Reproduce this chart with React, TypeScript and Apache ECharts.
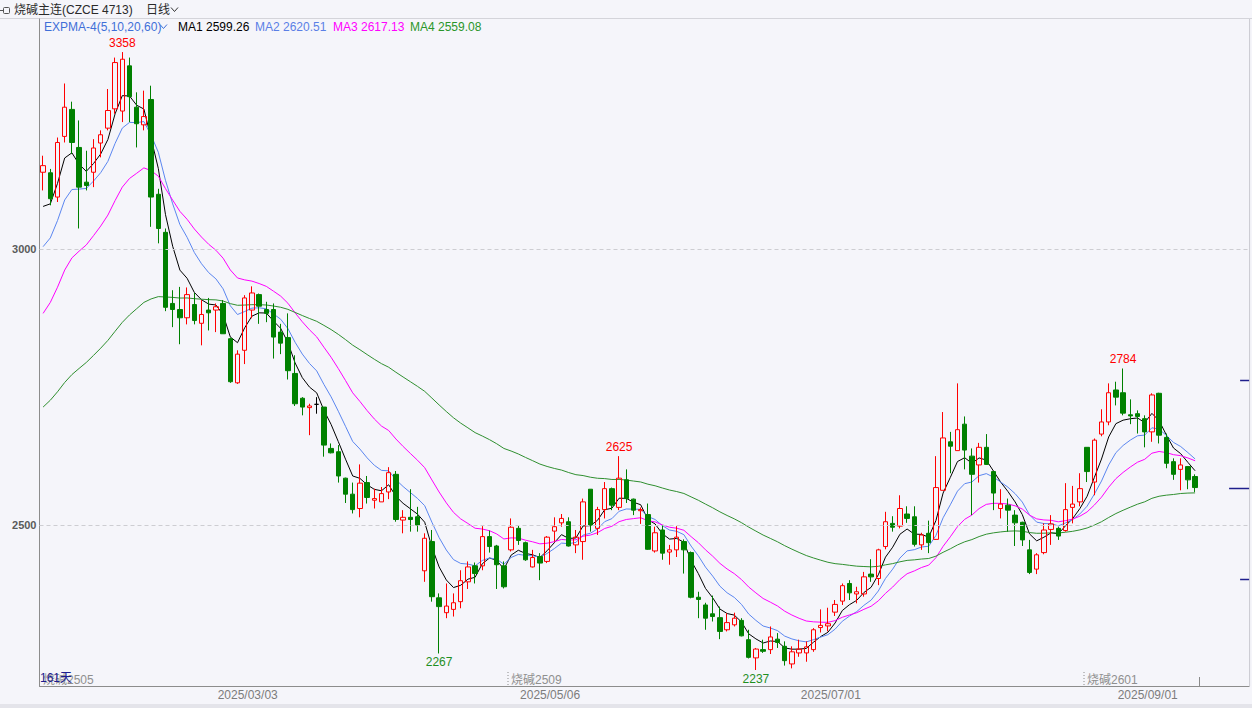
import React, { useEffect, useRef } from "react";
import * as echarts from "echarts";

// ---- trading calendar (2025) ----
const JAN = [14, 15, 16, 17, 20, 21, 22, 23, 24, 27];
const FEB = [5, 6, 7, 10, 11, 12, 13, 14, 17, 18, 19, 20, 21, 24, 25, 26, 27, 28];
const MAR = [3, 4, 5, 6, 7, 10, 11, 12, 13, 14, 17, 18, 19, 20, 21, 24, 25, 26, 27, 28, 31];
const APR = [1, 2, 3, 7, 8, 9, 10, 11, 14, 15, 16, 17, 18, 21, 22, 23, 24, 25, 28, 29, 30];
const MAY = [6, 7, 8, 9, 12, 13, 14, 15, 16, 19, 20, 21, 22, 23, 26, 27, 28, 29, 30];
const JUN = [3, 4, 5, 6, 9, 10, 11, 12, 13, 16, 17, 18, 19, 20, 23, 24, 25, 26, 27, 30];
const JUL = [1, 2, 3, 4, 7, 8, 9, 10, 11, 14, 15, 16, 17, 18, 21, 22, 23, 24, 25, 28, 29, 30, 31];
const AUG = [1, 4, 5, 6, 7, 8, 11, 12, 13, 14, 15, 18, 19, 20, 21, 22, 25, 26, 27, 28, 29];
const SEP = [1, 2, 3, 4, 5, 8, 9, 10];
const MONTH_DAYS: [number, number[]][] = [[1, JAN], [2, FEB], [3, MAR], [4, APR], [5, MAY], [6, JUN], [7, JUL], [8, AUG], [9, SEP]];
const PAD_SLOTS = 7;

// ---- OHLC ----
const opens = [
  3140, 3139, 3095, 3205, 3254, 3185, 3122, 3140, 3193, 3220,
  3255, 3251, 3333, 3258, 3226, 3272, 3100, 3031, 2902, 2891,
  2876, 2900, 2866, 2890, 2890, 2902, 2838, 2758, 2817, 2890,
  2918, 2891, 2891, 2850, 2840, 2775, 2730, 2713, 2719, 2714,
  2639, 2633, 2585, 2556, 2530, 2577, 2545, 2542, 2560, 2592,
  2509, 2514, 2515, 2417, 2470, 2368, 2341, 2347, 2361, 2397,
  2426, 2426, 2479, 2462, 2426, 2455, 2494, 2468, 2424, 2443,
  2434, 2489, 2504, 2506, 2464, 2470, 2565, 2494, 2528, 2566,
  2532, 2582, 2547, 2526, 2519, 2453, 2491, 2451, 2455, 2470,
  2450, 2369, 2355, 2339, 2332, 2310, 2319, 2327, 2292, 2259,
  2274, 2274, 2293, 2280, 2248, 2268, 2268, 2274, 2314, 2317,
  2342, 2362, 2394, 2375, 2375, 2411, 2403, 2461, 2503, 2498,
  2520, 2515, 2464, 2485, 2474, 2563, 2651, 2635, 2683, 2625,
  2609, 2641, 2597, 2530, 2536, 2518, 2505, 2455, 2420, 2450,
  2492, 2494, 2490, 2532, 2542, 2641, 2578, 2665, 2687, 2745,
  2740, 2700, 2702, 2693, 2669, 2739, 2659, 2615, 2601, 2606,
  2588,
];
const closes = [
  3152, 3092, 3194, 3258, 3194, 3113, 3116, 3184, 3208, 3252,
  3339, 3345, 3277, 3228, 3241, 3095, 3038, 2895, 2891, 2876,
  2918, 2871, 2882, 2885, 2896, 2847, 2760, 2810, 2912, 2921,
  2897, 2884, 2841, 2830, 2780, 2720, 2714, 2716, 2719, 2645,
  2631, 2589, 2556, 2528, 2576, 2550, 2548, 2557, 2595, 2510,
  2514, 2510, 2500, 2476, 2370, 2352, 2353, 2359, 2399, 2424,
  2412, 2479, 2461, 2428, 2388, 2496, 2472, 2437, 2441, 2431,
  2478, 2497, 2512, 2462, 2478, 2542, 2500, 2528, 2566, 2536,
  2585, 2548, 2527, 2528, 2456, 2486, 2449, 2455, 2478, 2455,
  2369, 2365, 2331, 2334, 2307, 2323, 2331, 2299, 2260, 2275,
  2271, 2297, 2287, 2254, 2270, 2275, 2279, 2310, 2318, 2321,
  2356, 2390, 2377, 2379, 2406, 2406, 2455, 2506, 2496, 2530,
  2512, 2465, 2482, 2468, 2568, 2658, 2643, 2673, 2636, 2592,
  2641, 2610, 2558, 2538, 2527, 2504, 2473, 2414, 2446, 2491,
  2502, 2480, 2528, 2538, 2566, 2597, 2654, 2687, 2740, 2732,
  2703, 2698, 2697, 2669, 2736, 2663, 2612, 2592, 2609, 2582,
  2568,
];
const lows = [
  3107, 3080, 3086, 3194, 3173, 3038, 3107, 3113, 3167, 3216,
  3246, 3231, 3231, 3185, 3216, 3041, 3011, 2888, 2859, 2828,
  2864, 2864, 2826, 2853, 2850, 2847, 2758, 2756, 2792, 2875,
  2865, 2868, 2802, 2810, 2764, 2716, 2699, 2663, 2702, 2624,
  2630, 2577, 2540, 2521, 2514, 2539, 2530, 2542, 2547, 2506,
  2485, 2488, 2488, 2397, 2361, 2267, 2331, 2334, 2349, 2384,
  2394, 2418, 2450, 2384, 2385, 2452, 2464, 2435, 2423, 2400,
  2431, 2470, 2497, 2461, 2449, 2437, 2488, 2482, 2512, 2527,
  2527, 2540, 2518, 2502, 2455, 2450, 2437, 2428, 2442, 2412,
  2367, 2331, 2310, 2325, 2293, 2307, 2316, 2298, 2258, 2237,
  2268, 2266, 2277, 2245, 2240, 2261, 2252, 2270, 2305, 2307,
  2335, 2355, 2364, 2358, 2370, 2397, 2391, 2456, 2488, 2494,
  2504, 2461, 2455, 2449, 2473, 2563, 2594, 2635, 2601, 2518,
  2577, 2609, 2527, 2512, 2488, 2462, 2462, 2411, 2411, 2447,
  2464, 2473, 2488, 2503, 2534, 2578, 2554, 2661, 2681, 2717,
  2699, 2683, 2666, 2641, 2651, 2648, 2603, 2582, 2563, 2565,
  2560,
];
const highs = [
  3170, 3146, 3203, 3301, 3268, 3234, 3179, 3200, 3216, 3291,
  3348, 3358, 3348, 3285, 3288, 3297, 3110, 3038, 2926, 2932,
  2931, 2921, 2908, 2912, 2902, 2908, 2840, 2817, 2917, 2933,
  2920, 2905, 2902, 2865, 2884, 2808, 2732, 2720, 2732, 2714,
  2648, 2645, 2586, 2577, 2610, 2589, 2566, 2569, 2605, 2598,
  2527, 2565, 2533, 2485, 2491, 2376, 2394, 2376, 2418, 2434,
  2432, 2498, 2490, 2464, 2434, 2512, 2500, 2470, 2455, 2449,
  2480, 2514, 2520, 2514, 2491, 2548, 2565, 2533, 2578, 2568,
  2625, 2601, 2548, 2532, 2539, 2497, 2500, 2464, 2498, 2474,
  2452, 2379, 2359, 2372, 2352, 2340, 2341, 2331, 2310, 2277,
  2292, 2316, 2304, 2289, 2280, 2292, 2289, 2313, 2347, 2350,
  2364, 2394, 2400, 2388, 2415, 2438, 2457, 2524, 2516, 2554,
  2534, 2534, 2486, 2508, 2625, 2705, 2669, 2757, 2697, 2639,
  2649, 2665, 2598, 2565, 2548, 2527, 2506, 2473, 2449, 2503,
  2518, 2497, 2576, 2571, 2594, 2641, 2657, 2710, 2757, 2760,
  2784, 2728, 2708, 2699, 2739, 2740, 2666, 2621, 2621, 2607,
  2592,
];

// ---- indicator (EXPMA) ----
const EMA_PERIODS = [5, 10, 20, 60];
const EMA_SEEDS = [3078, 3005, 2884, 2714];
const EMA_COLORS = ["#000000", "#5b86f0", "#ff00ff", "#2f8f2f"];
const LEGEND_LABELS = ["MA1 2599.26", "MA2 2620.51", "MA3 2617.13", "MA4 2559.08"];
const LEGEND_X = [178, 255, 333, 410];

// ---- annotations ----
const PEAK_IDX = [11, 80, 150];
const TROUGH_IDX = [55, 99];
const DATE_LABEL_IDX = [28, 70, 109, 153];
const Y_TICKS = [2500, 3000];
const ROLL_IDX = [0, 65, 145];
const ROLL_NAMES = ["烧碱2505", "烧碱2509", "烧碱2601"];
const LIMITS = [2764, 2402];

const BG = "#f5f5fa";
const FONT = '"Liberation Sans", Arial, "Noto Sans CJK SC", sans-serif';
const SLOT = 7.2;
const GRID_LEFT = 39.5;
const GRID_TOP = 19;
const GRID_H = 667;

function pad2(n: number) {
  return n < 10 ? "0" + n : String(n);
}

const dates: string[] = [];
MONTH_DAYS.forEach(([m, days]) => days.forEach((d) => dates.push(`2025/${pad2(m)}/${pad2(d)}`)));
const categories = dates.concat(Array.from({ length: PAD_SLOTS }, (_, k) => `pad${k}`));

function ema(values: number[], n: number, seed: number) {
  const a = 2 / (n + 1);
  const out: number[] = [];
  let prev = seed;
  values.forEach((c, i) => {
    prev = i === 0 ? seed : a * c + (1 - a) * prev;
    out.push(Math.round(prev * 100) / 100);
  });
  return out;
}

export default function App() {
  const ref = useRef<HTMLDivElement>(null);

  useEffect(() => {
    const el = ref.current!;
    const chart = echarts.init(el, undefined, { renderer: "svg", width: 1252, height: 708 });
    const candleData = opens.map((o, i) => [o, closes[i], lows[i], highs[i]]);

    const markData: any[] = [];
    PEAK_IDX.forEach((i) =>
      markData.push({
        coord: [categories[i], highs[i]],
        value: highs[i],
        label: { position: "top", color: "#ff0000", formatter: String(highs[i]) },
      })
    );
    TROUGH_IDX.forEach((i) =>
      markData.push({
        coord: [categories[i], lows[i]],
        value: lows[i],
        label: { position: "bottom", color: "#1f8f1f", formatter: String(lows[i]) },
      })
    );

    const lineSeries = EMA_PERIODS.map((n, k) => ({
      type: "line",
      name: "EMA" + n,
      data: ema(closes, n, EMA_SEEDS[k]),
      showSymbol: false,
      symbol: "none",
      silent: true,
      z: 2,
      lineStyle: { color: EMA_COLORS[k], width: 1 },
    }));

    chart.setOption({
      animation: false,
      backgroundColor: BG,
      textStyle: { fontFamily: FONT },
      grid: { left: GRID_LEFT, top: GRID_TOP, width: categories.length * SLOT, height: GRID_H, containLabel: false },
      xAxis: {
        type: "category",
        data: categories,
        boundaryGap: true,
        axisLine: { show: true, onZero: false, lineStyle: { color: "#8c8c8c" } },
        axisTick: { show: false },
        splitLine: { show: false },
        axisLabel: { show: false },
      },
      yAxis: {
        type: "value",
        min: 2208,
        max: 3418,
        axisLine: { show: true, lineStyle: { color: "#8c8c8c" } },
        axisTick: { show: false },
        splitLine: { show: false },
        axisLabel: {
          customValues: Y_TICKS,
          formatter: (v: number) => String(v),
          color: "#5a5a5a",
          fontSize: 11,
          fontWeight: "bold",
          fontFamily: FONT,
          margin: 3,
        },
      },
      series: [
        ...lineSeries,
        {
          type: "candlestick",
          data: candleData,
          barWidth: 5,
          z: 3,
          silent: true,
          itemStyle: {
            color: "transparent",
            color0: "#008000",
            borderColor: "#ff0000",
            borderColor0: "#008000",
            borderColorDoji: "#000000",
            borderWidth: 1,
          },
          markLine: {
            silent: true,
            symbol: "none",
            label: { show: false },
            lineStyle: { color: "#cdcdd2", type: [4, 3], width: 1 },
            data: Y_TICKS.map((v) => ({ yAxis: v })),
          },
          markPoint: {
            silent: true,
            symbol: "circle",
            symbolSize: 0,
            itemStyle: { color: "transparent" },
            label: { show: true, fontSize: 12, fontFamily: FONT, distance: 3 },
            data: markData,
          },
        },
      ],
    });

    const px = (i: number) => chart.convertToPixel({ xAxisIndex: 0 }, i) as number;
    const py = (v: number) => chart.convertToPixel({ yAxisIndex: 0 }, v) as number;
    const right = GRID_LEFT + categories.length * SLOT;
    const bottom = GRID_TOP + GRID_H;

    const txt = (x: number, y: number, text: string, fill: string, size = 12, align = "left") => ({
      type: "text",
      x,
      y,
      silent: true,
      style: { text, fill, font: `normal ${size}px ${FONT}`, verticalAlign: "middle", align },
      z: 10,
    });

    const g: any[] = [
      { type: "rect", shape: { x: 0, y: 704, width: 1252, height: 4 }, style: { fill: "#e4e4ea" }, silent: true },
      { type: "line", shape: { x1: 0, y1: 18.5, x2: 1252, y2: 18.5 }, style: { stroke: "#d4d4da", lineWidth: 1 }, silent: true },
      { type: "line", shape: { x1: right + 0.5, y1: GRID_TOP, x2: right + 0.5, y2: bottom }, style: { stroke: "#c9c9d0", lineWidth: 1 }, silent: true },
      // header icon
      { type: "line", shape: { x1: 0, y1: 10.5, x2: 3, y2: 10.5 }, style: { stroke: "#555", lineWidth: 1 }, silent: true },
      { type: "rect", shape: { x: 3.5, y: 7.5, width: 6, height: 6, r: 1 }, style: { fill: "none", stroke: "#555", lineWidth: 1 }, silent: true },
      txt(14, 10, "烧碱主连(CZCE 4713)", "#2a2a2a"),
      txt(146, 10, "日线", "#2a2a2a"),
      { type: "polyline", shape: { points: [[171, 7.5], [174.5, 11.5], [178, 7.5]] }, style: { stroke: "#333", fill: "none", lineWidth: 1 }, silent: true },
      txt(44, 27, "EXPMA-4(5,10,20,60)", "#3f6fd8"),
      { type: "polyline", shape: { points: [[160, 24.5], [163.5, 28.5], [167, 24.5]] }, style: { stroke: "#3f6fd8", fill: "none", lineWidth: 1 }, silent: true },
    ];
    LEGEND_LABELS.forEach((t, k) => g.push(txt(LEGEND_X[k], 27, t, k === 1 ? "#5b7fe6" : k === 3 ? "#2a962a" : EMA_COLORS[k])));

    // date labels under the axis
    DATE_LABEL_IDX.forEach((idx) => g.push(txt(px(idx) + 3, 695, dates[idx], "#7c7c7c", 12, "center")));

    // contract rolls
    ROLL_IDX.forEach((idx, k) => {
      const bx = px(idx) - SLOT / 2;
      if (k > 0) {
        g.push({ type: "line", shape: { x1: bx + 0.5, y1: 672, x2: bx + 0.5, y2: bottom }, style: { stroke: "#8a8a8a", lineWidth: 1, lineDash: [1, 2] }, silent: true });
      }
      g.push(txt(bx + 3.5, 680, ROLL_NAMES[k], "#8f8f8f"));
    });
    g.push(txt(40, 678, `${dates.length}天`, "#1c1c90"));
    // last bar tick
    const lx = Math.round(px(dates.length - 1) + SLOT / 2) + 0.5;
    g.push({ type: "line", shape: { x1: lx, y1: 677, x2: lx, y2: bottom }, style: { stroke: "#8a8a8a", lineWidth: 1 }, silent: true });
    // right side markers: limits & last price
    LIMITS.forEach((v) => {
      const y = Math.round(py(v)) + 0.5;
      g.push({ type: "line", shape: { x1: right - 9, y1: y, x2: right, y2: y }, style: { stroke: "#1e1e8c", lineWidth: 1.5 }, silent: true });
    });
    const ly = Math.round(py(closes[closes.length - 1])) + 0.5;
    g.push({ type: "line", shape: { x1: right - 20, y1: ly, x2: right, y2: ly }, style: { stroke: "#1e1e8c", lineWidth: 1.5 }, silent: true });

    chart.setOption({ graphic: g });

    return () => chart.dispose();
  }, []);

  return (
    <div
      ref={ref}
      style={{ position: "fixed", left: 0, top: 0, width: 1252, height: 708, background: BG }}
    />
  );
}
